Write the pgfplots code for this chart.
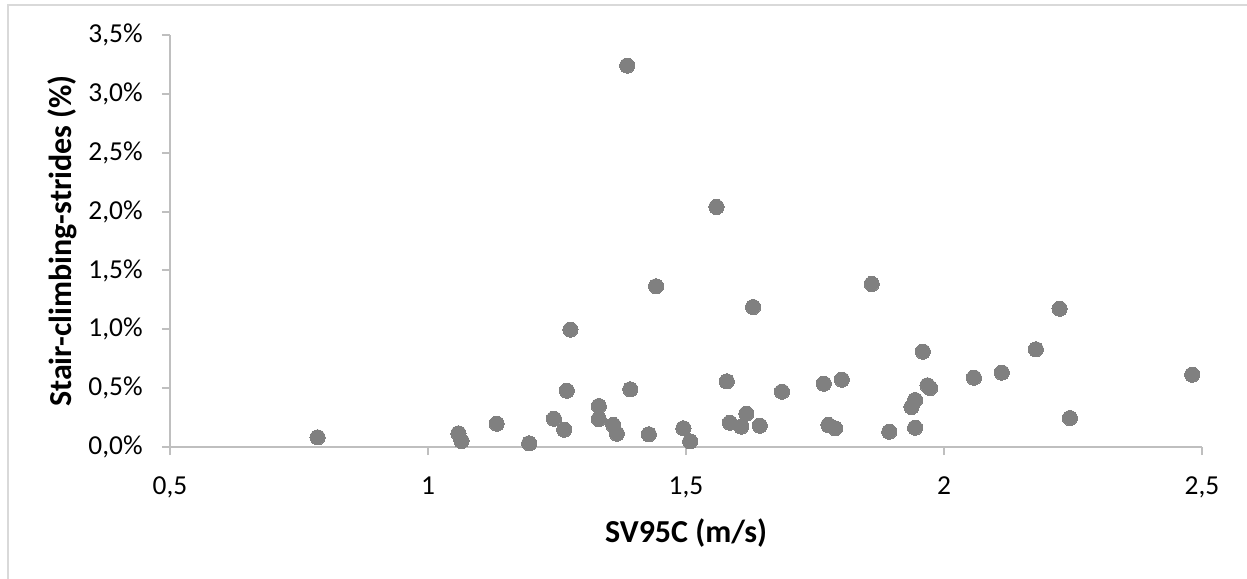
\documentclass[border=0pt]{standalone}
\usepackage{fontspec}
\setmainfont{Carlito}
\usepackage{pgfplots}
\pgfplotsset{compat=1.18}
\definecolor{dotgray}{HTML}{808080}
\definecolor{axgray}{HTML}{BFBFBF}
\definecolor{framegray}{HTML}{D9D9D9}
\begin{document}
\begin{tikzpicture}
\begin{axis}[
  scale only axis,
  width=516bp, height=206bp,
  xmin=0.5, xmax=2.5, ymin=0, ymax=3.5,
  axis x line*=bottom, axis y line*=left,
  axis line style={axgray, line width=1bp, -},
  xtick={0.5,1,1.5,2,2.5},
  xticklabels={{0,5},1,{1,5},2,{2,5}},
  ytick={0,0.5,1,1.5,2,2.5,3,3.5},
  yticklabels={{0,0\%},{0,5\%},{1,0\%},{1,5\%},{2,0\%},{2,5\%},{3,0\%},{3,5\%}},
  tick align=outside, major tick length=4bp,
  tick style={axgray, line width=1bp},
  tick label style={font=\fontsize{13.7bp}{16bp}\selectfont, text=black, inner sep=0pt},
  xticklabel style={anchor=base, yshift=-19.5bp},
  yticklabel style={anchor=east, xshift=-9.5bp},
  xlabel={SV95C (m/s)},
  xlabel style={font=\bfseries\fontsize{16bp}{19bp}\selectfont, at={(axis description cs:0.5,-0.2306)}, anchor=base, inner sep=0pt},
  ylabel={Stair-climbing-strides (\%)},
  ylabel style={font=\bfseries\fontsize{16bp}{19bp}\selectfont, at={(axis description cs:-0.0950,0.5)}, anchor=base, rotate=0, inner sep=0pt},
  clip=false,
]
\addplot[only marks, mark=*, mark size=3.8bp, color=dotgray, mark options={solid, fill=dotgray, draw=dotgray, line width=0pt}] coordinates {
(0.786,0.082) (1.059,0.116) (1.065,0.051) (1.133,0.198) (1.196,0.031)
(1.244,0.240) (1.264,0.147) (1.269,0.478) (1.276,0.997) (1.331,0.348)
(1.331,0.238) (1.359,0.187) (1.366,0.113) (1.386,3.240) (1.392,0.490)
(1.428,0.108) (1.442,1.365) (1.495,0.159) (1.508,0.048) (1.559,2.039)
(1.579,0.558) (1.585,0.206) (1.607,0.173) (1.617,0.283) (1.630,1.189)
(1.643,0.181) (1.686,0.470) (1.767,0.538) (1.776,0.187) (1.789,0.159)
(1.802,0.572) (1.860,1.385) (1.894,0.130) (1.937,0.340) (1.944,0.399)
(1.944,0.164) (1.959,0.810) (1.968,0.524) (1.973,0.501) (2.058,0.589)
(2.112,0.632) (2.178,0.830) (2.224,1.175) (2.244,0.246) (2.481,0.614)
};
\end{axis}
\pgfresetboundingbox
\useasboundingbox (-85bp,-66bp) rectangle (538.5bp,223.5bp);
\draw[framegray, line width=0.75bp] (-81bp,-66bp) -- (-81bp,221bp) -- (538.5bp,221bp);
\end{tikzpicture}
\end{document}
